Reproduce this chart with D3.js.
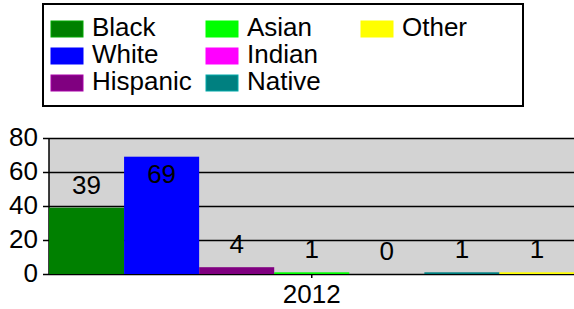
<!DOCTYPE html>
<html>
<head>
<meta charset="utf-8">
<script src="https://cdn.jsdelivr.net/npm/d3@7"></script>
<style>
  html, body { margin: 0; padding: 0; background: #fff; }
  svg { display: block; font-family: "Liberation Sans", Arial, sans-serif; }
</style>
</head>
<body>
<svg id="chart" width="574" height="309"></svg>
<script>
// chart data
const years = ["2012"];
const groups = ["Black", "White", "Hispanic", "Asian", "Indian", "Native", "Other"];
const counts = [39, 69, 4, 1, 0, 1, 1];
const groupColors = ["#008000", "#0000ff", "#800080", "#00ff00", "#ff00ff", "#008080", "#ffff00"];
const yTicks = [0, 20, 40, 60, 80];

const svg = d3.select("#chart");
const fontSize = "26px";

// plot area
const plotLeft = 49, plotRight = 574.5, plotTop = 138, plotBottom = 274;

const x0 = d3.scaleBand().domain(years).range([plotLeft, plotRight]).padding(0);
const x1 = d3.scaleBand().domain(groups).range([0, x0.bandwidth()]).padding(0);
const y = d3.scaleLinear().domain([0, 80]).range([plotBottom, plotTop]);
const color = d3.scaleOrdinal().domain(groups).range(groupColors);

// gray background
svg.append("rect")
   .attr("x", plotLeft)
   .attr("y", plotTop)
   .attr("width", plotRight - plotLeft)
   .attr("height", plotBottom - plotTop)
   .style("fill", "#d3d3d3");

// y axis with gridlines
const yAxis = svg.append("g")
   .attr("transform", `translate(${plotLeft},0)`)
   .call(d3.axisLeft(y).tickValues(yTicks).tickSize(6).tickPadding(6));

yAxis.select(".domain").remove();
yAxis.selectAll(".tick line").style("stroke", "#000").style("stroke-width", "1.5px");
yAxis.selectAll(".tick text")
     .attr("x", -11)
     .attr("dy", "0.29em")
     .style("font-size", fontSize)
     .style("font-family", "'Liberation Sans', Arial, sans-serif")
     .style("fill", "#000");

yAxis.selectAll(".tick")
     .append("line")
     .attr("x1", 0)
     .attr("x2", plotRight - plotLeft)
     .style("stroke", "#000")
     .style("stroke-width", "1.5px");

// left axis line
svg.append("line")
   .attr("x1", plotLeft).attr("x2", plotLeft)
   .attr("y1", plotTop).attr("y2", plotBottom)
   .style("stroke", "#000")
   .style("stroke-width", "1.5px");

// bars
const yearGroup = svg.selectAll(".year")
   .data(years)
   .enter()
   .append("g")
   .attr("class", "year")
   .attr("transform", d => `translate(${x0(d)},0)`);

yearGroup.selectAll("rect")
   .data(groups.map((g, i) => ({group: g, value: counts[i]})))
   .enter()
   .append("rect")
   .attr("x", d => x1(d.group))
   .attr("y", d => y(d.value))
   .attr("width", x1.bandwidth())
   .attr("height", d => plotBottom - y(d.value))
   .style("fill", d => color(d.group));

// value labels, above the bar unless it would leave the plot
yearGroup.selectAll(".val")
   .data(groups.map((g, i) => ({group: g, value: counts[i]})))
   .enter()
   .append("text")
   .attr("class", "val")
   .attr("x", d => x1(d.group) + x1.bandwidth() / 2)
   .attr("y", d => {
     let ly = y(d.value) - 14;
     if (ly - 18 < plotTop) {
       ly = y(d.value) + 26.5;
     }
     return ly;
   })
   .attr("text-anchor", "middle")
   .style("font-size", fontSize)
   .style("fill", "#000")
   .text(d => d.value);

// x axis
const xAxis = svg.append("g")
   .attr("transform", `translate(0,${plotBottom})`)
   .call(d3.axisBottom(x0).tickSize(4).tickPadding(7).tickSizeOuter(0));

xAxis.select(".domain").remove();
xAxis.selectAll(".tick line").style("stroke", "#000").style("stroke-width", "1.5px");
xAxis.selectAll(".tick text")
     .attr("dy", "0.71em")
     .style("font-size", fontSize)
     .style("font-family", "'Liberation Sans', Arial, sans-serif")
     .style("fill", "#000");

// legend
const legend = svg.append("g").attr("class", "legend");

legend.append("rect")
      .attr("x", 43)
      .attr("y", 4)
      .attr("width", 480)
      .attr("height", 102)
      .style("fill", "#fff")
      .style("stroke", "#000")
      .style("stroke-width", "2px");

const legendItems = legend.selectAll(".item")
      .data(groups)
      .enter()
      .append("g")
      .attr("class", "item")
      .attr("transform", (d, i) => `translate(${51 + Math.floor(i / 3) * 155},${36 + (i % 3) * 27})`);

legendItems.append("rect")
      .attr("x", 0)
      .attr("y", -15)
      .attr("width", 32)
      .attr("height", 16)
      .style("fill", d => color(d))
      .style("stroke", d => d3.color(color(d)).brighter(0.8))
      .style("stroke-width", "1px");

legendItems.append("text")
      .attr("x", 41)
      .attr("y", 0)
      .style("font-size", fontSize)
      .style("fill", "#000")
      .text(d => d);
</script>
</body>
</html>
